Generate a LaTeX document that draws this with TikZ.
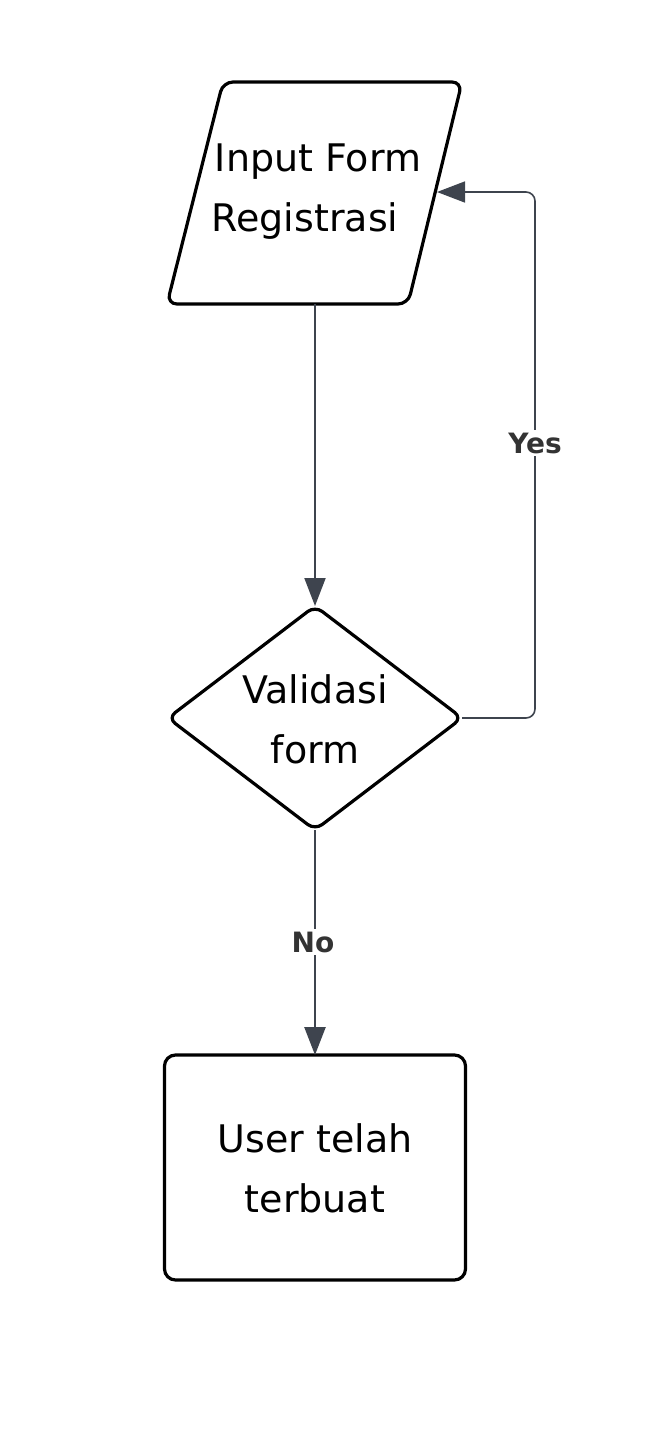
\documentclass[tikz,border=0pt]{standalone}
\usepackage{fontspec}
\setmainfont{DejaVu Sans}
\usetikzlibrary{shapes.geometric,arrows.meta}
\definecolor{conncol}{HTML}{3E444E}
\definecolor{labcol}{HTML}{333333}
\tikzset{
  outline/.style={draw=black, line width=3.2pt, outer sep=0pt},
  boxtext/.style={align=center, font=\fontsize{38}{60}\selectfont, inner sep=0pt},
  conn/.style={draw=conncol, line width=2pt, -{Triangle[length=28pt,width=21pt]}},
  connthin/.style={draw=conncol, line width=1.6pt, -{Triangle[length=28pt,width=21pt]}, rounded corners=9pt},
  lab/.style={fill=white, text=labcol, font=\fontsize{28}{30}\selectfont\bfseries, inner sep=3pt}
}
\begin{document}
\begin{tikzpicture}[x=1pt, y=-1pt]
\useasboundingbox (0,0) rectangle (664,1433);
% parallelogram (input)
\draw[outline, rounded corners=10pt] (223,82) -- (462,82) -- (408,304) -- (167,304) -- cycle;
\node[boxtext] (inp) at (318,192) {Input Form\\Registrasi\hspace*{26pt}};
\coordinate (inpS) at (315,304);
\coordinate (inpE) at (437,192);
% decision
\node[outline, diamond, minimum width=294pt, minimum height=224pt, inner sep=0pt, rounded corners=9pt] (dia) at (315,718) {};
\node[boxtext] (diatext) at (315,719) {Validasi\\form};
% result
\node[outline, rectangle, minimum width=301pt, minimum height=225pt, rounded corners=11pt] (res) at (315,1167.5) {};
\node[boxtext] (restext) at (315,1168) {User telah\\terbuat};
% connectors
\draw[conn] (inpS) -- (dia.north);
\coordinate (c1) at (535,718);
\coordinate (c2) at (535,192);
\draw[connthin] (dia.east) -- (c1) -- (c2) -- (inpE);
\node[lab] (yes) at (535,443) {Yes};
\draw[conn, line width=2.5pt] (dia.south) -- (res.north);
\node[lab] (no) at (313,942) {No};
\end{tikzpicture}
\end{document}
